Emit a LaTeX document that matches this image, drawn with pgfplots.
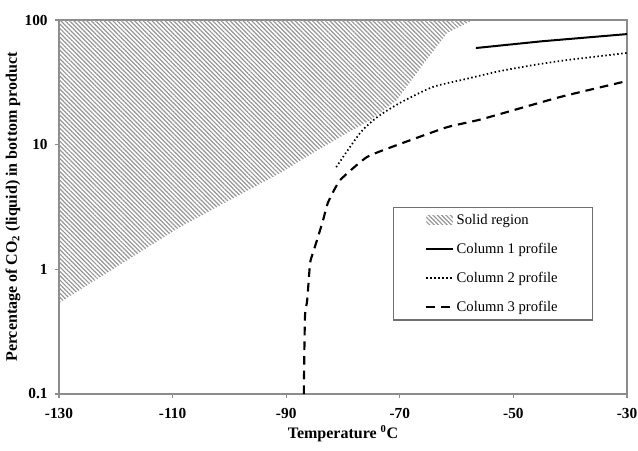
\documentclass[border=0pt]{standalone}
\usepackage{pgfplots}
\pgfplotsset{compat=1.18}
\usepackage{fontspec}
\setmainfont{Liberation Serif}
\usetikzlibrary{patterns.meta}
\definecolor{axgray}{RGB}{140,140,140}
\definecolor{hatch}{RGB}{150,150,150}
\pgfplotsset{
  lineleg/.style={legend image code/.code={\draw[##1] (0cm,0cm) -- (0.7cm,0cm);}},
  arealeg/.style={legend image code/.code={\path[##1] (0cm,-0.1cm) rectangle (0.7cm,0.12cm);}},
}
\begin{document}
\begin{tikzpicture}
\begin{axis}[
  scale only axis,
  width=426pt, height=280.5pt,
  xmin=-130, xmax=-30,
  ymode=log, ymin=0.1, ymax=100,
  xtick={-130,-110,-90,-70,-50,-30},
  xticklabels={-130,-110,-90,-70,-50,-30},
  ytick={0.1,1,10,100},
  yticklabels={0.1,1,10,100},
  minor tick num=0,
  log basis y=10,
  xtick pos=left, ytick pos=left,
  tick align=outside,
  major tick length=3pt,
  axis line style={axgray, line width=1pt},
  every tick/.style={axgray, line width=0.8pt},
  /pgf/number format/assume math mode=true,
  ticklabel style={font=\bfseries\fontsize{11.5}{13}\selectfont},
  xticklabel style={yshift=-4pt},
  yticklabel style={xshift=-2pt},
  xlabel={\textbf{Temperature \textsuperscript{0}C}},
  ylabel={\textbf{Percentage of CO\textsubscript{2} (liquid) in bottom product}},
  label style={font=\bfseries\fontsize{12}{14}\selectfont},
  xlabel style={at={(axis description cs:0.5,-0.105)}, anchor=center},
  ylabel style={at={(axis description cs:-0.081,0.5)}, anchor=center},
  legend style={at={(rel axis cs:0.94,0.5)}, anchor=north east,
    draw=axgray!80!black, line width=0.8pt,
    font=\fontsize{11}{13}\selectfont,
    inner xsep=24pt, inner ysep=3pt, row sep=8.5pt},
  legend cell align=left,
  clip=true,
]
\addplot[draw=none, pattern={Lines[angle=-45, distance=2.3pt, line width=0.9pt]}, pattern color=hatch, arealeg]
  coordinates {
  (-130,0.537) (-108.7,2.18) (-99.9,3.6) (-91.1,5.9) (-85.3,8.57) (-80.5,11.5)
  (-75.2,15.7) (-70.5,22.8) (-66.4,41) (-61.7,78.5) (-57.1,100) (-130,100)
  } -- cycle;
\addlegendentry{Solid region}
\addplot[black, line width=1.5pt, lineleg]
  coordinates {(-56.6,59.6) (-45,67.5) (-30,77.1)};
\addlegendentry{Column 1 profile}
\addplot[black, line width=1.3pt, dash pattern=on 1.1pt off 1.9pt, smooth, tension=0.4, lineleg]
  coordinates {(-81.2,6.6) (-77.0,12.4) (-74.0,16.6) (-70.0,21.6) (-64.2,29) (-58.4,33.6)
  (-52.4,38.9) (-46.5,43.5) (-40.6,47.7) (-30,54.4)};
\addlegendentry{Column 2 profile}
\addplot[black, line width=1.6pt, dash pattern=on 6.5pt off 4.5pt, smooth, tension=0.3, lineleg]
  coordinates {(-86.9,0.1) (-86.7,0.414) (-86.3,0.567) (-85.8,1.12) (-85.3,1.35)
  (-84.4,1.82) (-83.5,2.49) (-82.6,3.47) (-80.5,5.2) (-75.8,7.95) (-70.5,9.93)
  (-61.7,13.8) (-55.6,16.0) (-41.8,24.1) (-30,32.4)};
\addlegendentry{Column 3 profile}
\coordinate (bl) at (rel axis cs:0,0);
\coordinate (tr) at (rel axis cs:1,1);
\end{axis}
\pgfresetboundingbox
\path ([shift={(-44.25pt,-42pt)}]bl) rectangle ([shift={(8.25pt,15pt)}]tr);
\end{tikzpicture}
\end{document}
